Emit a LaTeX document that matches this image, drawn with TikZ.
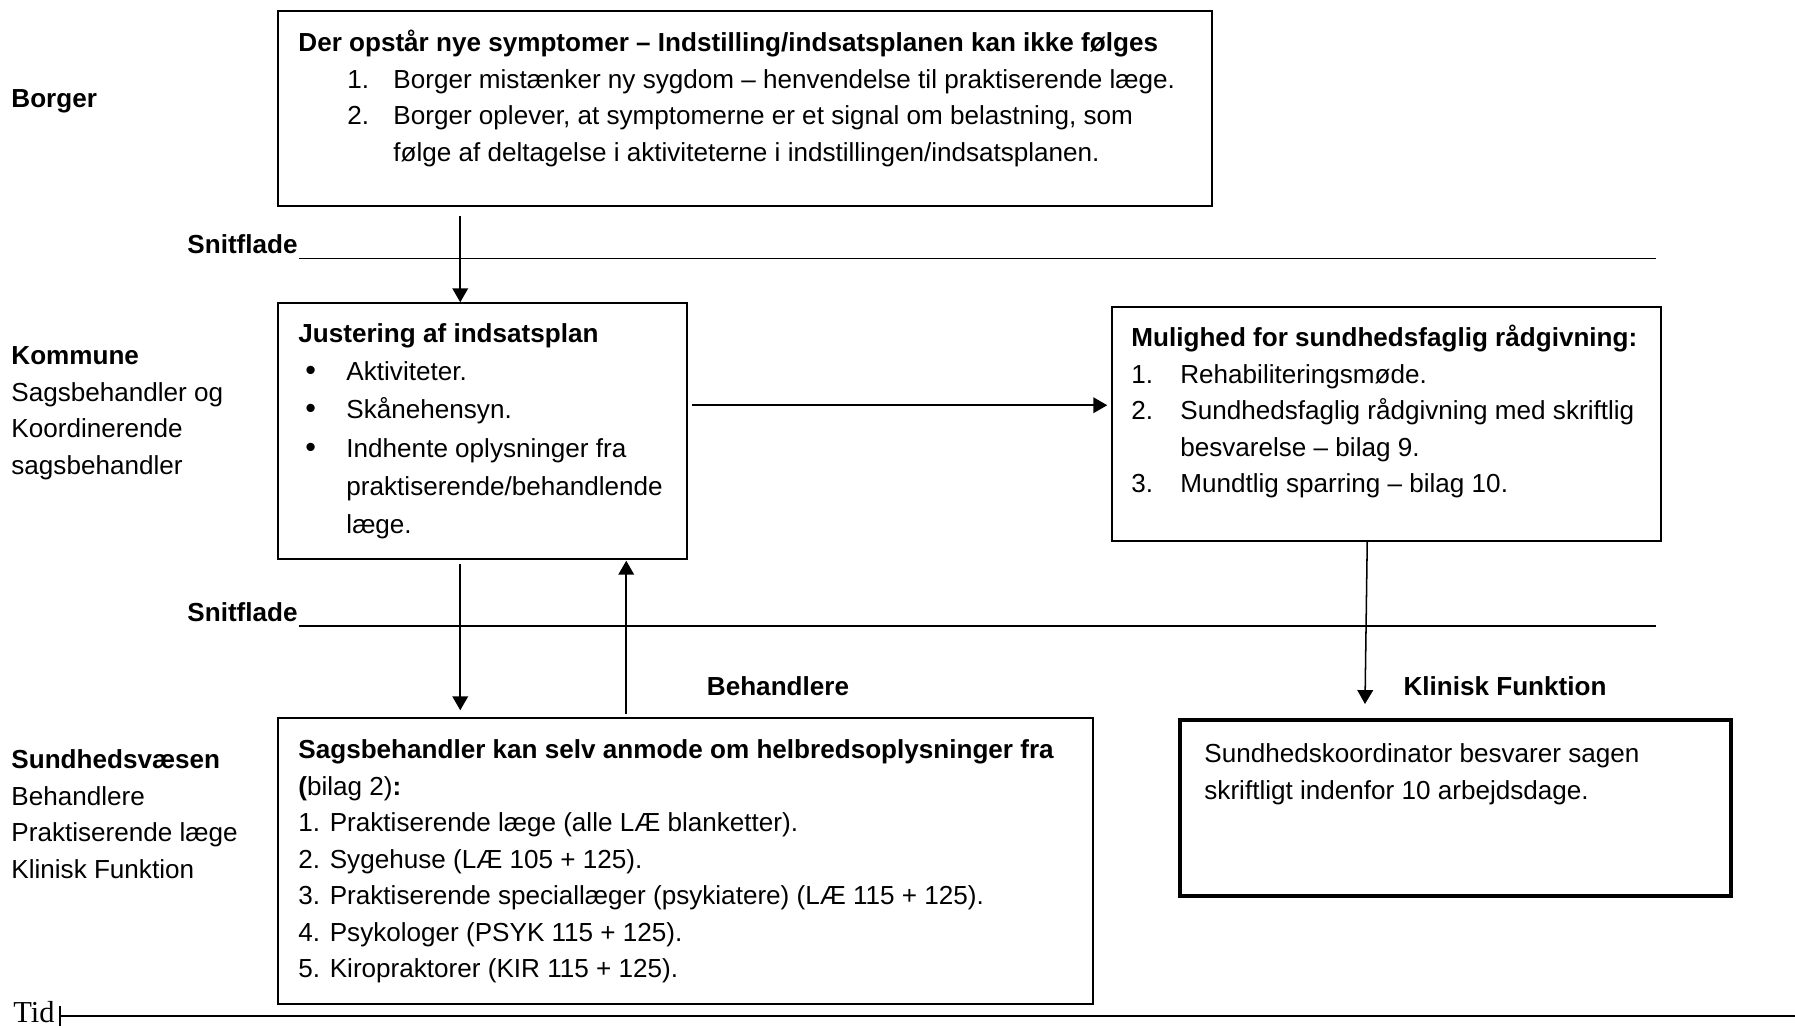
\documentclass[tikz,border=0pt]{standalone}
\usepackage{fontspec}
\setmainfont{Liberation Sans}
\newfontfamily\tidfont{Liberation Serif}
\usetikzlibrary{arrows.meta,calc,fit}
\tikzset{
	box/.style={draw, line width=0.7pt, inner sep=0pt},
	txt/.style={anchor=north west, inner sep=0pt, align=left, font=\fontsize{12}{16.8}\selectfont},
	lbl/.style={inner sep=0pt, font=\fontsize{12}{16.8}\selectfont\bfseries},
	arr/.style={line width=0.7pt, -{Triangle[length=6.4pt,width=7.2pt]}},
	snit/.style={line width=0.6pt}
}
\newcommand{\topnr}[1]{\hspace*{22.5pt}\makebox[21.2pt][l]{#1}}
\newcommand{\munr}[1]{\makebox[22.5pt][l]{#1}}
\newcommand{\bul}{\hspace*{3.2pt}\makebox[18.9pt][l]{\fontsize{14}{14}\selectfont\textbullet}}

\begin{document}
\begin{tikzpicture}[x=0.46pt,y=-0.46pt]
	\useasboundingbox (0,0) rectangle (1795,1028);

	% boxes
	\node[box, fit={(278,11) (1212,206)}] (top) {};
	\node[box, fit={(278,303) (687,559)}] (just) {};
	\node[box, fit={(1112,307) (1661,541)}] (mul) {};
	\node[box, fit={(278,718) (1093,1004)}] (sags) {};
	\node[box, line width=2.2pt, fit={(1180,720) (1731,896)}] (klin) {};

	\node[txt] (toptxt) at (298,25.5) {\strut\textbf{Der opstår nye symptomer – Indstilling/indsatsplanen kan ikke følges}\\
		\topnr{1.}Borger mistænker ny sygdom – henvendelse til praktiserende læge.\\
		\topnr{2.}Borger oplever, at symptomerne er et signal om belastning, som\\
		\hspace*{43.7pt}følge af deltagelse i aktiviteterne i indstillingen/indsatsplanen.};
	\node[txt, font=\fontsize{12}{17.6}\selectfont] (justtxt) at (298,315) {\strut\textbf{Justering af indsatsplan}\\
		\bul Aktiviteter.\\
		\bul Skånehensyn.\\
		\bul Indhente oplysninger fra\\
		\hspace*{22.1pt}praktiserende/behandlende\\
		\hspace*{22.1pt}læge.};
	\node[txt] (multxt) at (1131,320.5) {\strut\textbf{Mulighed for sundhedsfaglig rådgivning:}\\
		\munr{1.}Rehabiliteringsmøde.\\
		\munr{2.}Sundhedsfaglig rådgivning med skriftlig\\
		\hspace*{22.5pt}besvarelse – bilag 9.\\
		\munr{3.}Mundtlig sparring – bilag 10.};
	\node[txt] (sagstxt) at (298,732.5) {\strut\textbf{Sagsbehandler kan selv anmode om helbredsoplysninger fra}\\
		\textbf{(}bilag 2)\textbf{:}\\
		1. Praktiserende læge (alle LÆ blanketter).\\
		2. Sygehuse (LÆ 105 + 125).\\
		3. Praktiserende speciallæger (psykiatere) (LÆ 115 + 125).\\
		4. Psykologer (PSYK 115 + 125).\\
		5. Kiropraktorer (KIR 115 + 125).};
	\node[txt] (klintxt) at (1204,736.5) {\strut Sundhedskoordinator besvarer sagen\\
		skriftligt indenfor 10 arbejdsdage.};

	% left column
	\node[txt] (borger) at (11,81.5) {\strut\textbf{Borger}};
	\node[txt] (kommune) at (11,338.5) {\strut\textbf{Kommune}\\
		Sagsbehandler og\\
		Koordinerende\\
		sagsbehandler};
	\node[txt] (sundhed) at (11,742.5) {\strut\textbf{Sundhedsvæsen}\\
		Behandlere\\
		Praktiserende læge\\
		Klinisk Funktion};

	\node[lbl, anchor=base west] (snit1) at (187,253.5) {Snitflade};
	\node[lbl, anchor=base west] (snit2) at (187,621) {Snitflade};
	\draw[snit] ($(snit1.base east)+(1,5)$) -- ($(snit1.base east)+(1358,5)$);
	\draw[snit] ($(snit2.base east)+(1,5)$) -- ($(snit2.base east)+(1358,5)$);

	\node[lbl, anchor=base] (behand) at (778,695) {Behandlere};
	\node[lbl, anchor=base] (klinlbl) at (1505,695) {Klinisk Funktion};

	% arrows
	\draw[arr] ($(top.south west)+(183,9)$) -- ($(just.north west)+(183,0)$);
	\draw[arr] ($(just.north east)+(4,103)$) -- ($(mul.north west)+(-4,99)$);
	\draw[arr] ($(just.south west)+(183,4)$) -- ($(sags.north west)+(183,-7)$);
	\draw[arr] ($(sags.north west)+(349,-3)$) -- ($(just.south west)+(349,1)$);
	\coordinate (kf) at (1365,704);
	\draw[arr] ($(mul.south west)+(256,0)$) -- (kf);

	% time axis
	\node[anchor=base west, inner sep=0pt, font=\tidfont\fontsize{14}{16}\selectfont] (tid) at (13,1022) {Tid};
	\draw[line width=0.9pt, {Bar[width=9pt]}-] ($(tid.base east)+(4,-6)$) -- (1795,1016);
\end{tikzpicture}
\end{document}
